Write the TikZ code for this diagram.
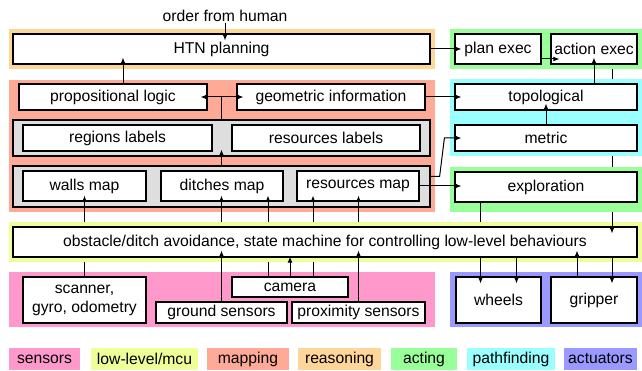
\documentclass[tikz,border=0pt]{standalone}
\usepackage{fontspec}
\setmainfont{Liberation Sans}
\usepackage{tikz}
\usetikzlibrary{arrows.meta}
\pgfdeclarelayer{hidden}
\pgfdeclarelayer{bg}
\pgfdeclarelayer{low}
\pgfdeclarelayer{top}
\pgfsetlayers{hidden,bg,main,low,top}

\definecolor{sensorcol}{HTML}{FF99CC}
\definecolor{lowcol}{HTML}{EEFF99}
\definecolor{mapcol}{HTML}{FFAA96}
\definecolor{reasoncol}{HTML}{FFD699}
\definecolor{actcol}{HTML}{99FF99}
\definecolor{pathcol}{HTML}{99FFFF}
\definecolor{actuatorcol}{HTML}{9999FF}

\tikzstyle{box} = [draw, fill=white, line width=1.2pt, inner sep=0pt, align=center]
\tikzstyle{greybox} = [draw, fill=black!13, line width=1.2pt, inner sep=0pt]
\tikzstyle{area} = [inner sep=0pt]
\tikzstyle{arrow} = [-{Latex[length=6pt,width=5pt]}, line width=1pt]
\tikzstyle{inbox} = [shorten >=-7pt]
\tikzstyle{legend} = [inner sep=0pt, minimum height=22pt]

\begin{document}
\begin{tikzpicture}[x=1pt,y=-1pt,font=\fontsize{15.7}{19}\selectfont]
    \useasboundingbox (0,0) rectangle (642,371);

    % Coloured areas behind the boxes
    \begin{pgfonlayer}{bg}
    \node[area, fill=reasoncol, minimum width=426pt, minimum height=40pt] (reasonbg) at (222,49) {};
    \node[area, fill=mapcol, minimum width=426pt, minimum height=132pt] (mapbg) at (222,146) {};
    \node[area, fill=sensorcol, minimum width=426pt, minimum height=55pt] (sensorbg) at (222,299.5) {};
    \node[area, fill=actcol, minimum width=192pt, minimum height=40pt] (actbg) at (546,49) {};
    \node[area, fill=pathcol, minimum width=192pt, minimum height=77pt] (pathbg) at (546,117.5) {};
    \node[area, fill=actcol, minimum width=192pt, minimum height=45pt] (explbg) at (546,189.5) {};
    \node[area, fill=actuatorcol, minimum width=192pt, minimum height=55pt] (actuatorbg) at (546,299.5) {};
    \end{pgfonlayer}

    % Low-level strip lies over the sensor lines
    \begin{pgfonlayer}{low}
    \node[area, fill=lowcol, minimum width=633pt, minimum height=40pt] (lowbg) at (325.5,242) {};
    \node[box, minimum width=624pt, minimum height=30pt] (low) at (325,242) {obstacle/ditch avoidance, state machine for controlling low-level behaviours};
    \end{pgfonlayer}

    % Reasoning and acting
    \node[inner sep=1pt] (order) at (225,16) {order from human};
    \node[box, minimum width=417pt, minimum height=30pt] (htn) at (221.5,49) {HTN planning};
    \node[box, minimum width=86pt, minimum height=30pt] (planexec) at (498,49) {plan exec};
    \node[box, minimum width=86pt, minimum height=30pt] (actexec) at (594,49) {action exec};

    % Mapping
    \node[box, minimum width=188pt, minimum height=26pt] (prop) at (113,97) {propositional logic};
    \node[box, minimum width=188pt, minimum height=26pt] (geo) at (331,97) {geometric information};
    \node[greybox, minimum width=417pt, minimum height=36pt] (lblgrey) at (221.5,138) {};
    \node[box, minimum width=189pt, minimum height=26pt] (regions) at (117.5,138) {regions labels};
    \node[box, minimum width=188pt, minimum height=26pt] (reslabels) at (326,138) {resources labels};
    \node[greybox, minimum width=417pt, minimum height=41pt] (mapgrey) at (221.5,186.5) {};
    \node[box, minimum width=123pt, minimum height=30pt] (walls) at (84.5,186) {walls map};
    \node[box, minimum width=122pt, minimum height=30pt] (ditches) at (222,186) {ditches map};
    \node[box, minimum width=122pt, minimum height=30pt] (resmap) at (358,186) {resources map};

    % Pathfinding
    \node[box, minimum width=182pt, minimum height=26pt] (topo) at (546,97) {topological};
    \node[box, minimum width=182pt, minimum height=26pt] (metric) at (546,138) {metric};
    \node[box, minimum width=182pt, minimum height=30pt] (explore) at (546,187) {exploration};

    % Sensors and actuators
    \node[box, minimum width=123pt, minimum height=46pt] (scanner) at (84.5,300) {scanner,\\gyro, odometry};
    \node[box, minimum width=116pt, minimum height=20pt] (camera) at (290,287) {camera};
    \node[box, minimum width=131pt, minimum height=21pt] (ground) at (221.5,312.5) {ground sensors};
    \node[box, minimum width=133pt, minimum height=21pt] (prox) at (358.5,312.5) {proximity sensors};
    \node[box, minimum width=85pt, minimum height=46pt] (wheels) at (498.5,300) {wheels};
    \node[box, minimum width=86pt, minimum height=46pt] (gripper) at (594,300) {gripper};

    % Connections on the upper part
    \draw[arrow, inbox] (order.south) -- (order.south |- htn.north);
    \draw[arrow, inbox] ([xshift=10pt]prop.north) -- ([xshift=10pt]prop.north |- htn.south);
    \draw[arrow, inbox] (lblgrey.north) |- (prop.east);
    \draw[arrow, inbox] (lblgrey.north) |- (geo.west);
    \draw[arrow, inbox] (mapgrey.north) -- (lblgrey.south);
    \draw[arrow, inbox] (htn.east) -- (planexec.west);
    \draw[arrow, shorten >=-9pt] ([yshift=-10pt]planexec.east) -- ([yshift=-10pt]actexec.west);
    \draw[arrow, inbox] (actexec.south |- topo.north) -- (actexec.south);
    \draw[arrow, inbox] (metric.north) -- (topo.south);
    \draw[arrow, inbox] (geo.east) -- (topo.west);
    \draw[arrow, inbox] ([yshift=10pt]mapgrey.east) -- ++(9,0) -- ([xshift=-10pt]metric.west) -- (metric.west);
    \draw[arrow, inbox] (resmap.east) -- (explore.west |- resmap.east);

    % Sensor lines running under the low-level strip
    \draw[arrow, shorten >=-6pt] (scanner.north) -- (walls.south);
    \draw[arrow, shorten >=-6pt] (ground.north) -- (ground.north |- ditches.south);
    \draw[arrow, shorten >=-6pt] ([xshift=-22pt]camera.north) -- ([xshift=-22pt]camera.north |- ditches.south);
    \draw[arrow, shorten >=-6pt] ([xshift=23pt]camera.north) -- ([xshift=23pt]camera.north |- resmap.south);
    \draw[arrow, shorten >=-6pt] (prox.north) -- (prox.north |- resmap.south);
    \draw[line width=1pt] ([xshift=-18pt]wheels.north |- explore.south) -- ([xshift=-18pt]wheels.north |- lowbg.north);

    % Line from action exec passing behind the coloured areas
    \begin{pgfonlayer}{hidden}
    \draw[line width=1pt] ([xshift=18pt]actexec.south) -- ([xshift=18pt]actexec.south |- low.north);
    \end{pgfonlayer}

    % Arrows into and out of the low-level box
    \begin{pgfonlayer}{top}
    \draw[arrow, inbox] ([xshift=18pt]actexec.south |- explbg.south) -- ([xshift=18pt]actexec.south |- low.north);
    \draw[arrow, inbox] (ground.north) -- (ground.north |- low.south);
    \draw[arrow, inbox] (prox.north) -- (prox.north |- low.south);
    \draw[arrow, shorten >=-1pt] (camera.north) -- (camera.north |- low.south);
    \draw[arrow, inbox] ([xshift=-17pt]gripper.north) -- ([xshift=-17pt]gripper.north |- low.south);
    \draw[arrow, inbox] ([xshift=-18pt]wheels.north |- low.south) -- ([xshift=-18pt]wheels.north);
    \draw[arrow, inbox] ([xshift=18pt]wheels.north |- low.south) -- ([xshift=18pt]wheels.north);
    \draw[arrow, inbox] ([xshift=18pt]gripper.north |- low.south) -- ([xshift=18pt]gripper.north);
    \end{pgfonlayer}

    % Legend
    \node[legend, fill=sensorcol, minimum width=71pt] (legsensors) at (44.5,359) {sensors};
    \node[legend, fill=lowcol, minimum width=107pt] (leglow) at (144.5,359) {low-level/mcu};
    \node[legend, fill=mapcol, minimum width=82pt] (legmapping) at (248,359) {mapping};
    \node[legend, fill=reasoncol, minimum width=83pt] (legreasoning) at (339.5,359) {reasoning};
    \node[legend, fill=actcol, minimum width=66pt] (legacting) at (424,359) {acting};
    \node[legend, fill=pathcol, minimum width=88pt] (legpath) at (511,359) {pathfinding};
    \node[legend, fill=actuatorcol, minimum width=73pt] (legactuators) at (600.5,359) {actuators};
\end{tikzpicture}
\end{document}
